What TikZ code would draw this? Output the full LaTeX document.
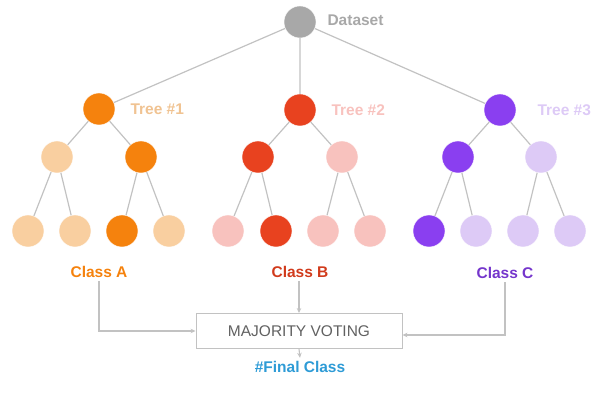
\documentclass[tikz,border=0pt]{standalone}
\usepackage{fontspec}
\setmainfont{Liberation Sans}
\usetikzlibrary{arrows.meta}
\definecolor{gline}{HTML}{C2C2C2}
\definecolor{dsgray}{HTML}{A8A8A8}
\definecolor{orD}{HTML}{F5820D}
\definecolor{orL}{HTML}{F9CFA0}
\definecolor{rdD}{HTML}{E8421F}
\definecolor{rdL}{HTML}{F8C2BE}
\definecolor{puD}{HTML}{8A3FF0}
\definecolor{puL}{HTML}{DDCAF6}
\definecolor{finblue}{HTML}{2E9BD6}
\begin{document}
\begin{tikzpicture}[x=1pt,y=-1pt,
  nd/.style={circle,minimum size=32pt,inner sep=0pt,draw=white,line width=0.4pt},
  edge/.style={draw=gline,line width=1.2pt},
  lbl/.style={font=\fontsize{15.5}{17}\selectfont\bfseries,anchor=west},
  cls/.style={font=\fontsize{15.5}{17}\selectfont\bfseries},
  arr/.style={draw=gline,line width=1.1pt,-{Stealth[length=5pt,width=4.5pt]}}]
\useasboundingbox (0,0) rectangle (595,403);
% root
\node[nd,fill=dsgray] (ds) at (300,22) {};
\node[lbl,text=dsgray] (dsl) at (324,20) {Dataset};
% trees
\node[nd,fill=orD] (t1) at (99,109) {};
\node[nd,fill=rdD] (t2) at (300,110) {};
\node[nd,fill=puD] (t3) at (500,110) {};
\node[lbl,text=orL!85!brown] (t1l) at (127,109) {Tree \#1};
\node[lbl,text=rdL] (t2l) at (328,110) {Tree \#2};
\node[lbl,text=puL] (t3l) at (534,110) {Tree \#3};
% level 2
\node[nd,fill=orL] (a1) at (57,157) {};
\node[nd,fill=orD] (a2) at (141,157) {};
\node[nd,fill=rdD] (b1) at (258,157) {};
\node[nd,fill=rdL] (b2) at (342,157) {};
\node[nd,fill=puD] (c1) at (458,157) {};
\node[nd,fill=puL] (c2) at (541,157) {};
% leaves
\node[nd,fill=orL] (a11) at (28,231) {};
\node[nd,fill=orL] (a12) at (75,231) {};
\node[nd,fill=orD] (a21) at (122,231) {};
\node[nd,fill=orL] (a22) at (169,231) {};
\node[nd,fill=rdL] (b11) at (228,231) {};
\node[nd,fill=rdD] (b12) at (276,231) {};
\node[nd,fill=rdL] (b21) at (323,231) {};
\node[nd,fill=rdL] (b22) at (370,231) {};
\node[nd,fill=puD] (c11) at (429,231) {};
\node[nd,fill=puL] (c12) at (476,231) {};
\node[nd,fill=puL] (c21) at (523,231) {};
\node[nd,fill=puL] (c22) at (570,231) {};
% edges
\path[edge] (ds) -- (t1) (ds) -- (t2) (ds) -- (t3);
\path[edge] (t1) -- (a1) (t1) -- (a2) (t2) -- (b1) (t2) -- (b2) (t3) -- (c1) (t3) -- (c2);
\path[edge] (a1) -- (a11) (a1) -- (a12) (a2) -- (a21) (a2) -- (a22);
\path[edge] (b1) -- (b11) (b1) -- (b12) (b2) -- (b21) (b2) -- (b22);
\path[edge] (c1) -- (c11) (c1) -- (c12) (c2) -- (c21) (c2) -- (c22);
% classes
\node[cls,text=orD] (ca) at (99,272) {Class A};
\node[cls,text=rdD!90!black] (cb) at (300,272) {Class B};
\node[cls,text=puD!85!black] (cc) at (505,273) {Class C};
% voting box
\node[draw=gline,line width=0.9pt,minimum width=206pt,minimum height=35pt,inner sep=0pt,
  font=\fontsize{15.5}{17}\selectfont,text=black!62] (mv) at (299,331) {MAJORITY VOTING};
\node[cls,text=finblue] (fc) at (300,367) {\#Final Class};
% connectors
\draw[arr] (ca.south) -- (ca.south |- mv.west) -- (mv.west);
\draw[arr] (cb.south -| mv.north) -- (mv.north);
\draw[arr] (cc.south) |- ([yshift=-4pt]mv.east);
\draw[arr] (mv.south) -- (fc.north);
\end{tikzpicture}
\end{document}
